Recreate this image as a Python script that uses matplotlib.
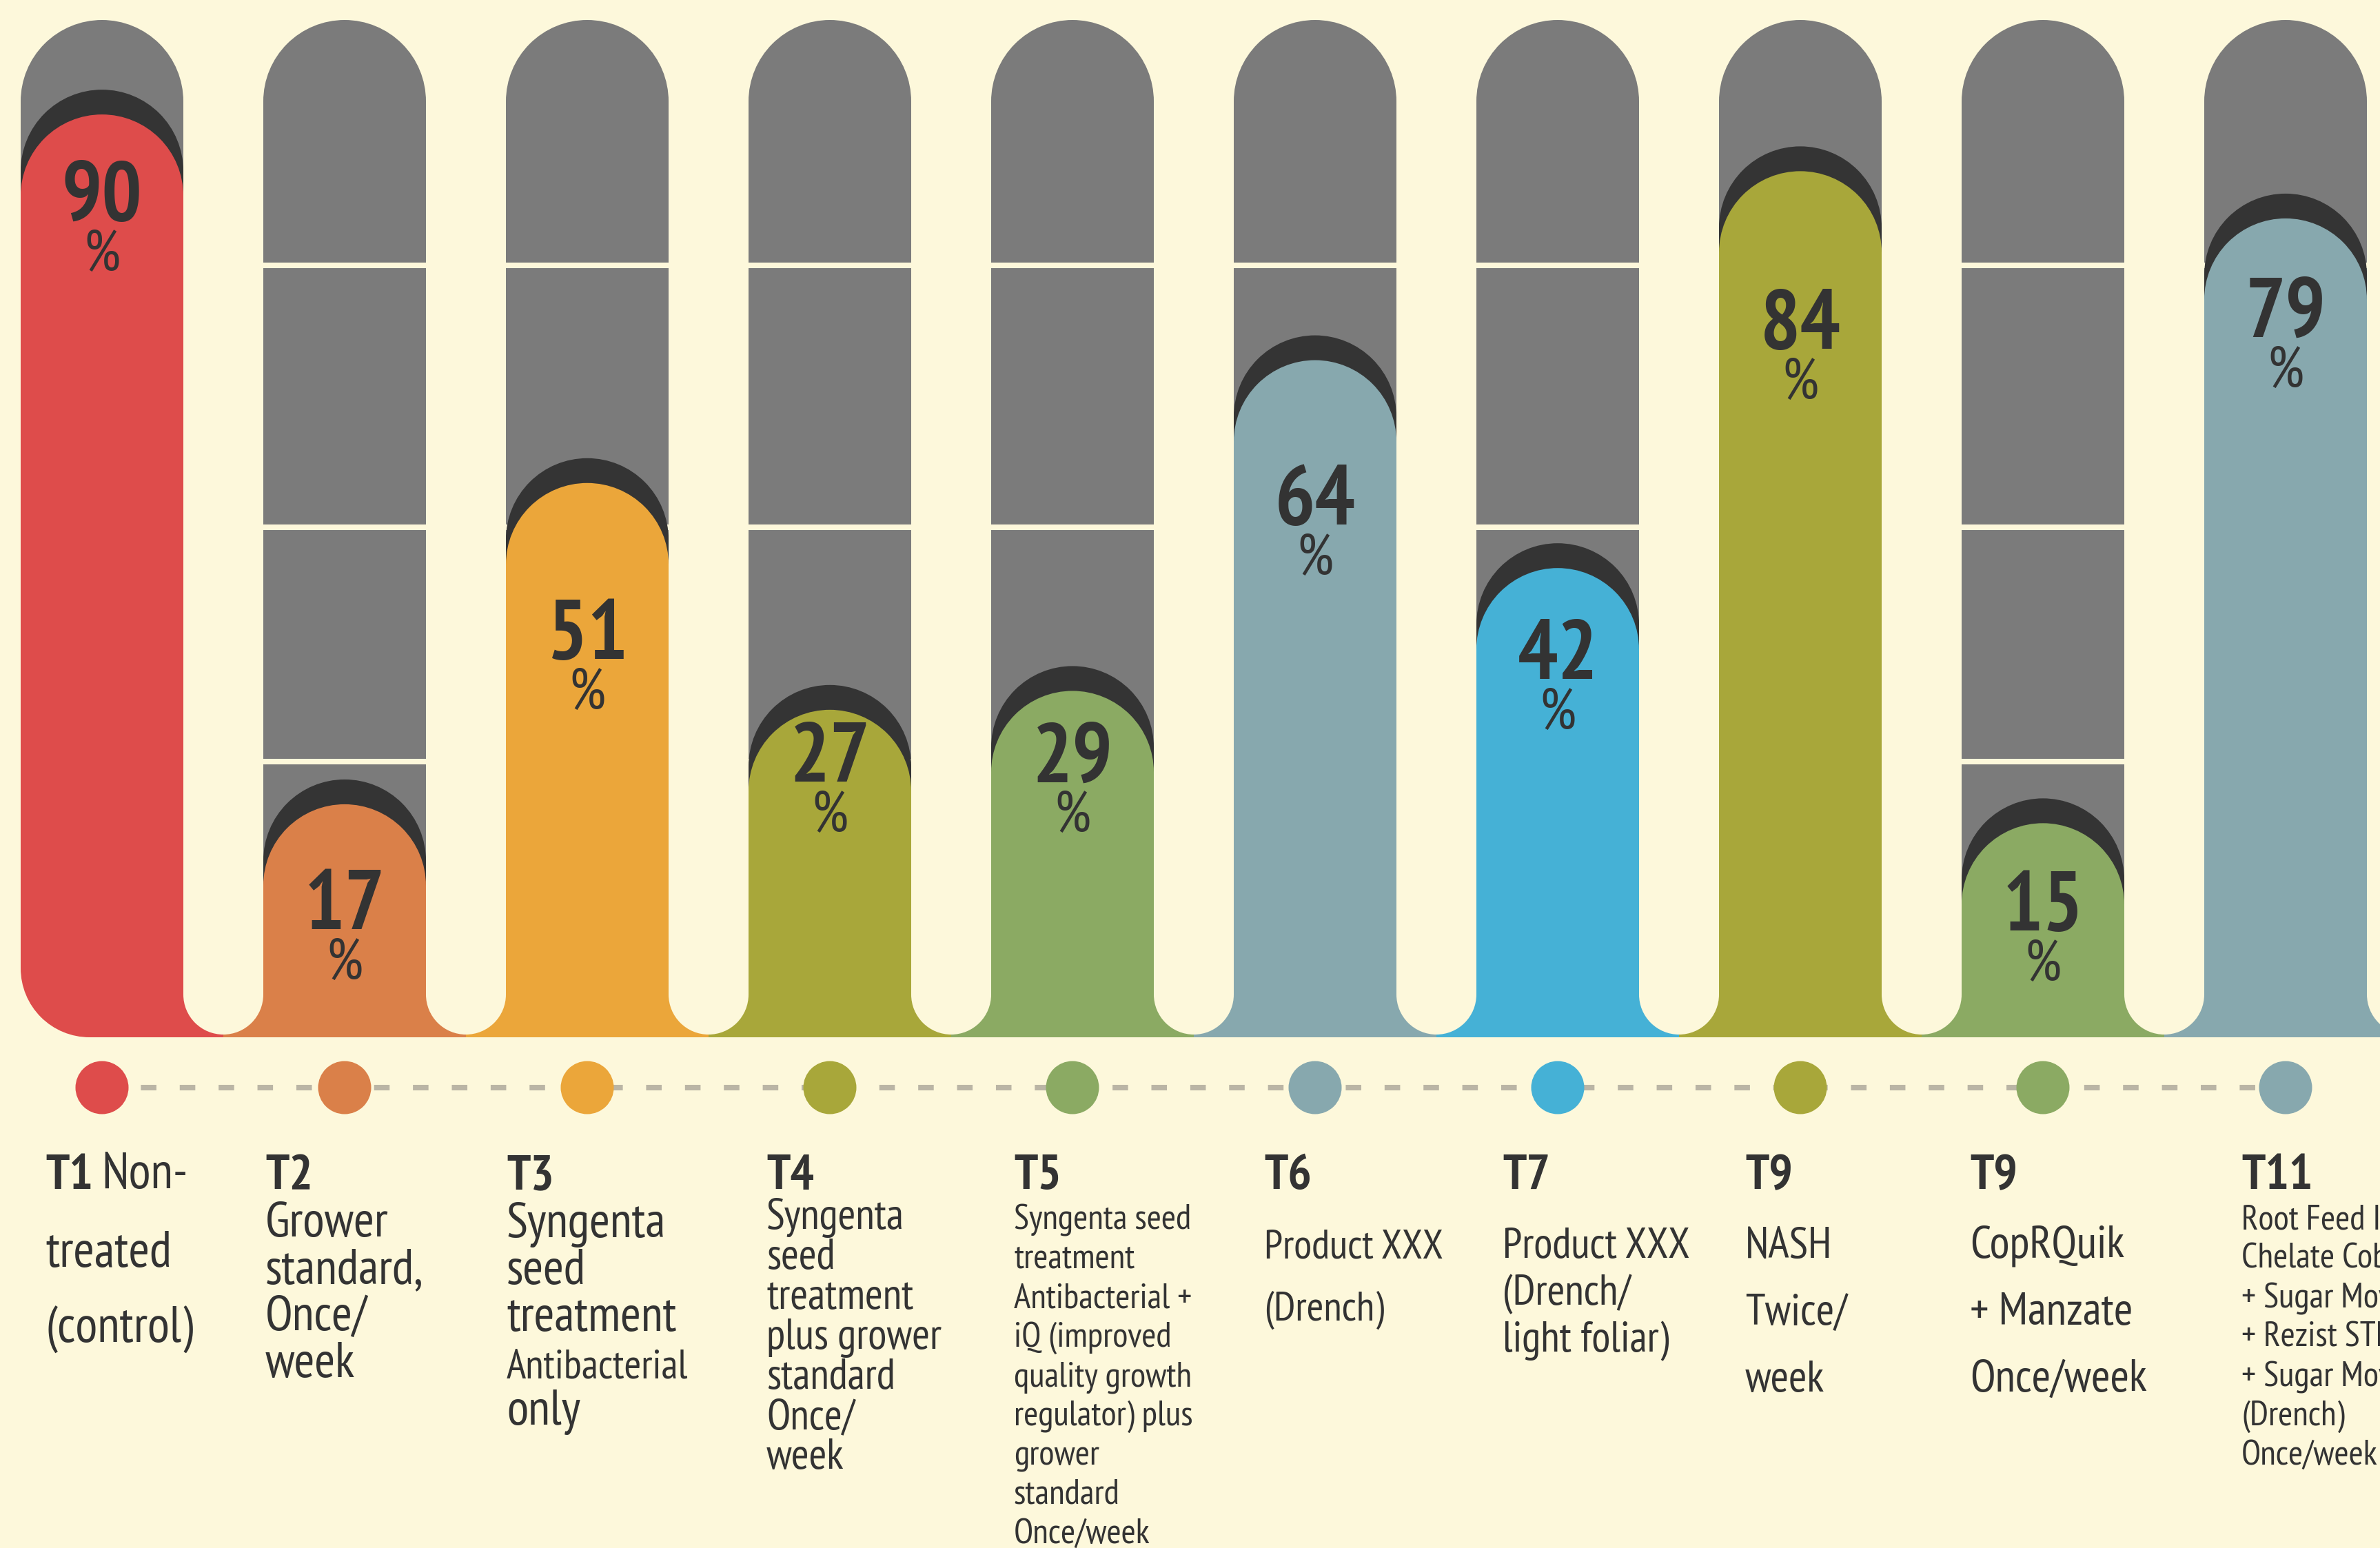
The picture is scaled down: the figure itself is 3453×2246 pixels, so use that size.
import matplotlib
matplotlib.use('Agg')
import matplotlib.pyplot as plt
from matplotlib import font_manager as fm
from matplotlib.patches import Rectangle, Ellipse

# ------------------------------------------------------------
# data
# ------------------------------------------------------------
treatments = ['T1', 'T2', 'T3', 'T4', 'T5', 'T6', 'T7', 'T9', 'T9', 'T11']
percent = [90, 17, 51, 27, 29, 64, 42, 84, 15, 79]
bar_colors = ['#DE4C4B', '#DA8049', '#EBA63A', '#A8A73A', '#8BAA63',
              '#87A8AE', '#45B1D6', '#A8A73A', '#8BAA63', '#87A8AE']
descriptions = [
    ['Non-', 'treated', '(control)'],
    ['Grower', 'standard,', 'Once/', 'week'],
    ['Syngenta', 'seed', 'treatment', 'Antibacterial', 'only'],
    ['Syngenta', 'seed', 'treatment', 'plus grower', 'standard', 'Once/', 'week'],
    ['Syngenta seed', 'treatment', 'Antibacterial +', 'iQ (improved',
     'quality growth', 'regulator) plus', 'grower', 'standard', 'Once/week'],
    ['Product XXX', '(Drench)'],
    ['Product XXX', '(Drench/', 'light foliar)'],
    ['NASH', 'Twice/', 'week'],
    ['CopRQuik', '+ Manzate', 'Once/week'],
    ['Root Feed Iron', 'Chelate Cobalt', '+ Sugar Mover', '+ Rezist STK',
     '+ Sugar Mover', '(Drench)', 'Once/week'],
]
grid_levels = [74.0, 46.3, 21.5]

# ------------------------------------------------------------
# layout (pixels of the 3453 x 2246 canvas)
# ------------------------------------------------------------
W, H, DPI = 3453, 2246, 100
PITCH, X_FIRST = 352, 148          # bar spacing, centre of first bar
BAR_W, GAP_W = 236, 116
Y_ZERO, PX_PER_PCT = 1400, 13.71   # where 0 % sits, px per percent
FLOOR_PX, GAP_MID_PX = 1505, 1443
CORNER_PX = 100
CAP_SHIFT_PX = 36
DOT_Y_PX, DOT_D_PX = 1578, 77
HEAD_BASE_PX = 1725

value_drop = [110, 137, 211, 60, 88, 194, 117, 214, 112, 128]   # digits below bar top
label_dx = [-82, -115, -117, -92, -85, -74, -80, -80, -106, -64]
body_start = [1728, 1794, 1795, 1783, 1783, 1825, 1825, 1825, 1825, 1783]
body_step = [110, 68, 68, 58, 57, 91, 68, 97, 97, 57]
body_size = [53, 52, 52, 45, 37, 43, 45, 46, 48, 37]
size_override = {(2, 3): 43}

CREAM = '#FDF8DB'
GRAY = '#7B7B7B'
DARK = '#343434'
INK = '#333333'
DASH = '#BAB5A5'

# condensed humanist face (the original uses a Myriad-like condensed type)
_all = {f.name for f in fm.fontManager.ttflist}
_bold = {f.name for f in fm.fontManager.ttflist
         if isinstance(f.weight, int) and f.weight >= 700}
_cands = ['PT Sans Narrow', 'Roboto Condensed', 'Fira Sans Condensed',
          'Asap Condensed', 'Open Sans Condensed', 'Encode Sans Condensed',
          'Archivo Narrow', 'Liberation Sans Narrow']
COND = next((c for c in _cands if c in _bold),
            next((c for c in _cands if c in _all), 'DejaVu Sans'))
FONT = [COND, 'DejaVu Sans']


def dx(px):
    return px / PITCH


def dy(px):
    return px / PX_PER_PCT


def yv(px):
    return (Y_ZERO - px) / PX_PER_PCT


HW, RY = dx(BAR_W / 2), dy(BAR_W / 2)
FLOOR = yv(FLOOR_PX)
RCX, RCY = dx(CORNER_PX), dy(CORNER_PX)


def round_top(ax, xc, y0, y1, color, z):
    ax.add_patch(Rectangle((xc - HW, y0), 2 * HW, y1 - RY - y0,
                           facecolor=color, edgecolor='none', zorder=z))
    ax.add_patch(Ellipse((xc, y1 - RY), 2 * HW, 2 * RY,
                         facecolor=color, edgecolor='none', zorder=z))


fig = plt.figure(figsize=(W / DPI, H / DPI), dpi=DPI, facecolor=CREAM)
ax = fig.add_axes([0, 0, 1, 1])
ax.set_facecolor(CREAM)
ax.set_xlim(-X_FIRST / PITCH, (W - X_FIRST) / PITCH)
ax.set_ylim(yv(H), yv(0))
ax.axis('off')

n = len(percent)
xs = list(range(n))

# gray tracks with cream grid lines
for i in xs:
    round_top(ax, i, FLOOR + RCY, 100, GRAY, 1)
for lvl in grid_levels:
    ax.hlines([lvl] * n, [i - HW for i in xs], [i + HW for i in xs],
              colors=CREAM, linewidth=5.8, zorder=1.5)

# coloured bars with dark shadow cap
for i, (v, c) in enumerate(zip(percent, bar_colors)):
    round_top(ax, i, v - 2 * RY, v + dy(CAP_SHIFT_PX), DARK, 2)
    y0 = FLOOR + RCY if i == 0 else FLOOR
    round_top(ax, i, y0, v, c, 3)
    # flared base joining neighbours
    left = -HW + RCX if i == 0 else i - 0.5
    ax.add_patch(Rectangle((left, FLOOR), i + 0.5 - left, yv(GAP_MID_PX) - FLOOR,
                           facecolor=c, edgecolor='none', zorder=3))
    if i == 0:
        ax.add_patch(Rectangle((-HW + RCX, FLOOR), 2 * HW - RCX, RCY + 0.5,
                               facecolor=c, edgecolor='none', zorder=3))
        ax.add_patch(Ellipse((-HW + RCX, FLOOR + RCY), 2 * RCX, 2 * RCY,
                             facecolor=c, edgecolor='none', zorder=3))
    # cream rounded gap on the right
    ax.add_patch(Ellipse((i + 0.5, yv(GAP_MID_PX)), dx(GAP_W), dy(GAP_W),
                         facecolor=CREAM, edgecolor='none', zorder=4))

    top_px = Y_ZERO - v * PX_PER_PCT
    ax.text(i, yv(top_px + value_drop[i] + 44), f'{v}', ha='center', va='baseline',
            fontsize=88, fontweight='bold', color=INK, family=FONT, zorder=6)
    ax.text(i, yv(top_px + value_drop[i] + 117), '%', ha='center', va='baseline',
            fontsize=60, color=INK, family=FONT, zorder=6)

# dotted timeline with coloured dots
dot_y = yv(DOT_Y_PX)
ax.plot([xs[0], xs[-1]], [dot_y, dot_y], color=DASH, linewidth=5.8,
        dashes=(2.8, 4.2), solid_capstyle='butt', zorder=4)
ax.scatter(xs, [dot_y] * n, s=(DOT_D_PX * 72 / DPI) ** 2, c=bar_colors,
           edgecolors='none', zorder=5)

# treatment labels
for i, (head, lines) in enumerate(zip(treatments, descriptions)):
    x = i + dx(label_dx[i])
    t = ax.text(x, yv(HEAD_BASE_PX), head, ha='left', va='baseline', fontsize=52,
                fontweight='bold', color=INK, family=FONT)
    start = 0
    if body_start[i] < HEAD_BASE_PX + 20:
        ax.annotate(lines[0], xy=(1, 0), xycoords=t, xytext=(9, 0),
                    textcoords='offset points', ha='left', va='bottom',
                    fontsize=body_size[i], color=INK, family=FONT)
        start = 1
    for k in range(start, len(lines)):
        ax.text(x, yv(body_start[i] + k * body_step[i]), lines[k], ha='left',
                va='baseline', fontsize=size_override.get((i, k), body_size[i]),
                color=INK, family=FONT)

fig.savefig('out.png', dpi=DPI, facecolor=CREAM)
